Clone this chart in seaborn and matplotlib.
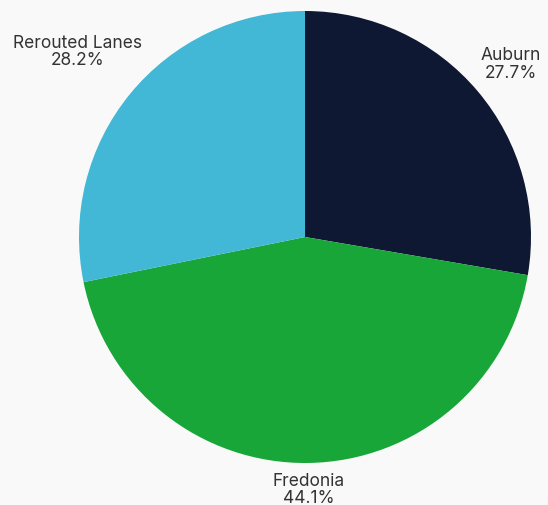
import numpy as np
import seaborn as sns
import matplotlib.pyplot as plt

# data
labels = ['Auburn', 'Fredonia', 'Rerouted Lanes']
shares = [27.7, 44.1, 28.2]
colors = ['#0e1833', '#17a637', '#42b7d6']
label_dist = [1.19, 1.115, 1.30]

sns.set_theme(style='white')
plt.rcParams['font.family'] = ['Inter', 'DejaVu Sans']

fig = plt.figure(figsize=(5.48, 5.06), dpi=100, facecolor='#f9f9f9')
ax = fig.add_axes([0, 0, 1, 1])
ax.set_facecolor('#f9f9f9')

r = 226
cx, cy = 305, 268
wedges, _ = ax.pie(shares, colors=colors, startangle=90, counterclock=False,
                   radius=r, center=(cx, cy), wedgeprops=dict(linewidth=0))

for w, lab, val, d in zip(wedges, labels, shares, label_dist):
    ang = np.deg2rad((w.theta1 + w.theta2) / 2)
    ax.text(cx + d * r * np.cos(ang), cy + d * r * np.sin(ang),
            f'{lab}\n{val:.1f}%', ha='center', va='center',
            fontsize=12.5, color='#333333', linespacing=1.05)

ax.set_xlim(0, 548)
ax.set_ylim(0, 506)
ax.set_aspect('equal')
ax.axis('off')

fig.savefig('out.png', dpi=100, facecolor=fig.get_facecolor())
